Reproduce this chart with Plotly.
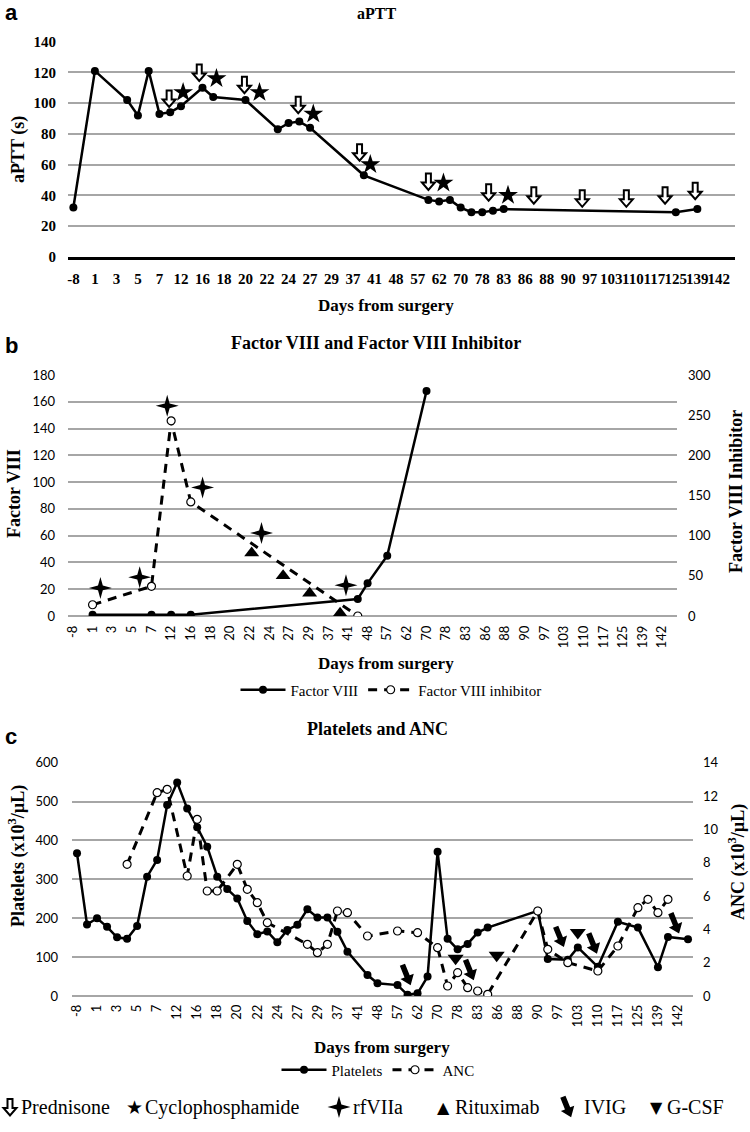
import math
import plotly.graph_objects as go

W, H = 750, 1132
SERIF = "Liberation Serif"
SANS = "Lato"
GRID = "#a6a6a6"

# ---------------- data ----------------
day_labels = ["-8", "1", "3", "5", "7", "12", "16", "18", "20", "22", "24", "27", "29", "37", "41",
              "48", "57", "62", "70", "78", "83", "86", "88", "90", "97", "103", "110", "117", "125",
              "139", "142"]
label_slots = list(range(0, 62, 2))

# Panel a: aPTT (category slot index, value)
aptt_slot = [0, 2, 5, 6, 7, 8, 9, 10, 12, 13, 16, 19, 20, 21, 22, 27, 33, 34, 35, 36, 37, 38, 39, 40, 56, 58]
aptt_val = [32, 121, 102, 92, 121, 93, 94, 98, 110, 104, 102, 83, 87, 88, 84, 53, 37, 36, 37, 32, 29, 29, 30, 31, 29, 31]
pred_a_slot = [8.9, 11.7, 15.9, 20.9, 26.6, 33.0, 38.6, 42.8, 47.3, 51.4, 55.0, 57.8]
pred_a_val = [103, 120, 112, 99, 68, 49, 42, 40, 38, 38, 40, 43]
cyclo_a_slot = [10.2, 13.3, 17.3, 22.3, 27.6, 34.4, 40.4]
cyclo_a_val = [107, 116, 107, 93, 60, 48, 40]

# Panel b: Factor VIII and inhibitor
f8_slot = [2, 8, 10, 12, 29, 30, 32, 36]
f8_val = [1, 1, 1, 1, 12.7, 24.4, 45, 168]
inh_slot = [2, 8, 10, 12, 29]
inh_val = [14, 37, 243, 142, 0]
rf_b_slot = [2.8, 6.8, 9.6, 13.2, 19.2, 27.8]
rf_b_val = [21, 29, 157, 96, 62, 23]
ritux_b_slot = [18.2, 21.4, 24.1, 27.2]
ritux_b_val = [47, 30, 17, 2]

# Panel c: Platelets and ANC
plt_slot = [0, 1, 2, 3, 4, 5, 6, 7, 8, 9, 10, 11, 12, 13, 14, 15, 16, 17, 18, 19, 20, 21, 22, 23, 24, 25,
            26, 27, 29, 30, 32, 33, 34, 35, 36, 37, 38, 39, 40, 41, 46, 47, 49, 50, 52, 54, 56, 58, 59, 61]
plt_val = [367, 184, 200, 178, 151, 147, 180, 307, 350, 491, 549, 482, 434, 384, 307, 275, 251, 193, 159,
           166, 138, 170, 183, 223, 202, 202, 165, 114, 54, 33, 28, 3, 7, 50, 371, 147, 120, 134, 163, 176,
           219, 95, 93, 125, 75, 191, 176, 74, 152, 146]
anc_slot = [5, 8, 9, 11, 12, 13, 14, 16, 17, 18, 19, 23, 24, 25, 26, 27, 29, 32, 34, 36, 37, 38, 39, 40,
            41, 46, 47, 49, 52, 54, 56, 57, 58, 59]
anc_val = [7.9, 12.2, 12.4, 7.2, 10.6, 6.3, 6.3, 7.9, 6.4, 5.6, 4.4, 3.1, 2.6, 3.1, 5.1, 5.0, 3.6, 3.9,
           3.8, 2.9, 0.6, 1.4, 0.5, 0.3, 0.1, 5.1, 2.8, 2.0, 1.5, 3.0, 5.3, 5.8, 5.0, 5.8]
ivig_c_slot = [32.9, 39.2, 48.2, 51.5, 59.7]
ivig_c_val = [54, 67, 152, 135, 187]
gcsf_c_slot = [37.8, 41.9, 50.0]
gcsf_c_val = [97, 105, 163]


def px(x):
    return x / W


def py(y):
    return 1 - y / H


# ---------- icon outlines (pixel units, y up) ----------
def to_path(pts):
    return "M " + " L ".join(f"{x:.2f},{y:.2f}" for x, y in pts) + " Z"


PRED_ICON = to_path([(-2.5, 8), (2.5, 8), (2.5, -1), (6.5, -1), (0, -8.5), (-6.5, -1), (-2.5, -1)])
RF_ICON = to_path([(0, 11), (2.4, 2.4), (11.5, 0), (2.4, -2.4), (0, -11), (-2.4, -2.4), (-11.5, 0), (-2.4, 2.4)])
_iv = [(-2.8, 11), (2.8, 11), (2.8, -1.5), (7.2, -1.5), (0, -11), (-7.2, -1.5), (-2.8, -1.5)]
_t = math.radians(22)
IVIG_ICON = to_path([(x * math.cos(_t) - y * math.sin(_t), x * math.sin(_t) + y * math.cos(_t)) for x, y in _iv])

shapes = []


def icon(path, xa, ya, xref, yref, fill="black", lw=0):
    shapes.append(dict(type="path", path=path, xref=xref, yref=yref, xsizemode="pixel",
                       ysizemode="pixel", xanchor=xa, yanchor=ya, fillcolor=fill,
                       line=dict(color="black", width=lw), layer="above"))


fig = go.Figure()

# ---------- panel a ----------
fig.add_trace(go.Scatter(x=aptt_slot, y=aptt_val, mode="lines+markers", xaxis="x", yaxis="y",
                         line=dict(color="black", width=2.5), marker=dict(size=8, color="black"),
                         showlegend=False, name="aPTT"))
fig.add_trace(go.Scatter(x=cyclo_a_slot, y=cyclo_a_val, mode="markers", xaxis="x", yaxis="y",
                         marker=dict(symbol="star", size=15, color="black", line=dict(width=0)),
                         showlegend=False, name="Cyclophosphamide"))
for xs, ys in zip(pred_a_slot, pred_a_val):
    icon(PRED_ICON, xs, ys, "x", "y", fill="white", lw=2)

# ---------- panel b ----------
fig.add_trace(go.Scatter(x=f8_slot, y=f8_val, mode="lines+markers", xaxis="x2", yaxis="y2",
                         line=dict(color="black", width=2.5), marker=dict(size=8, color="black"),
                         name="Factor VIII", legend="legend"))
fig.add_trace(go.Scatter(x=inh_slot, y=inh_val, mode="lines+markers", xaxis="x2", yaxis="y3",
                         line=dict(color="black", width=3, dash="9px,7px"),
                         marker=dict(size=8, color="white", line=dict(color="black", width=1.2)),
                         name="Factor VIII inhibitor", legend="legend"))
fig.add_trace(go.Scatter(x=ritux_b_slot, y=ritux_b_val, mode="markers", xaxis="x2", yaxis="y2",
                         marker=dict(symbol="triangle-up", size=13, color="black", line=dict(width=0)),
                         showlegend=False, name="Rituximab"))
for xs, ys in zip(rf_b_slot, rf_b_val):
    icon(RF_ICON, xs, ys, "x2", "y2")

# ---------- panel c ----------
fig.add_trace(go.Scatter(x=plt_slot, y=plt_val, mode="lines+markers", xaxis="x3", yaxis="y4",
                         line=dict(color="black", width=2.5), marker=dict(size=8, color="black"),
                         name="Platelets", legend="legend2"))
fig.add_trace(go.Scatter(x=anc_slot, y=anc_val, mode="lines+markers", xaxis="x3", yaxis="y5",
                         line=dict(color="black", width=3, dash="9px,7px"),
                         marker=dict(size=8, color="white", line=dict(color="black", width=1.2)),
                         name="ANC", legend="legend2"))
fig.add_trace(go.Scatter(x=gcsf_c_slot, y=gcsf_c_val, mode="markers", xaxis="x3", yaxis="y4",
                         marker=dict(symbol="triangle-down", size=14, color="black", line=dict(width=0)),
                         showlegend=False, name="G-CSF"))
for xs, ys in zip(ivig_c_slot, ivig_c_val):
    icon(IVIG_ICON, xs, ys, "x3", "y4")

annotations = []


def ann(text, x, y, size, family=SERIF, bold=True, angle=0, xanchor="center", color="black"):
    annotations.append(dict(text=text, x=px(x), y=py(y), xref="paper", yref="paper", showarrow=False,
                            xanchor=xanchor, yanchor="middle", textangle=angle,
                            font=dict(family=family, size=size, color=color,
                                      weight="bold" if bold else "normal")))


# panel letters
ann("a", 11, 13, 22, family="Liberation Sans")
ann("b", 11, 346, 22, family="Liberation Sans")
ann("c", 11, 736, 22, family="Liberation Sans")
# titles
ann("aPTT", 376, 14, 16)
ann("Factor VIII and Factor VIII Inhibitor", 376, 343, 18)
ann("Platelets and ANC", 377, 729, 18)
# x titles
ann("Days from surgery", 386, 305, 17)
ann("Days from surgery", 386, 664, 17)
ann("Days from surgery", 382, 1047, 17)
# y titles
ann("aPTT (s)", 18, 150, 18, angle=-90)
ann("Factor VIII", 14, 494, 18, angle=-90)
ann("Factor VIII Inhibitor", 736, 492, 18, angle=-90)
ann("Platelets (x10<sup>3</sup>/µL)", 17, 856, 18, angle=-90)
ann("ANC (x10<sup>3</sup>/µL)", 737, 862, 18, angle=-90)

# bottom treatment legend
LY = 1107
icon(PRED_ICON, px(10), py(LY), "paper", "paper", fill="white", lw=2)
ann("Prednisone", 19, LY, 20, bold=False, xanchor="left")
ann("★", 134, LY, 19, family="DejaVu Sans", bold=False)
ann("Cyclophosphamide", 143, LY, 20, bold=False, xanchor="left")
icon(RF_ICON, px(339), py(LY), "paper", "paper")
ann("rfVIIa", 351, LY, 20, bold=False, xanchor="left")
ann("▲", 443, LY, 16, family="DejaVu Sans", bold=False)
ann("Rituximab", 453, LY, 20, bold=False, xanchor="left")
icon(IVIG_ICON, px(567), py(LY), "paper", "paper")
ann("IVIG", 582, LY, 20, bold=False, xanchor="left")
ann("▼", 656, LY, 16, family="DejaVu Sans", bold=False)
ann("G-CSF", 665, LY, 20, bold=False, xanchor="left")

xcommon = dict(range=[-0.5, 61.5], tickvals=label_slots, ticktext=day_labels, showgrid=False,
               zeroline=False, ticks="")
sans_tick = dict(family=SANS, size=13, color="black")

fig.update_layout(
    width=W, height=H, margin=dict(l=0, r=0, t=0, b=0, autoexpand=False),
    paper_bgcolor="white", plot_bgcolor="white",
    annotations=annotations, shapes=shapes,
    xaxis=dict(domain=[px(68), px(735)], anchor="y", tickangle=0, showline=True, linecolor="black",
               linewidth=2.5, ticklabelstandoff=7,
               tickfont=dict(family=SERIF, size=15, color="black", weight="bold"), **xcommon),
    yaxis=dict(domain=[py(256.7), py(41.7)], anchor="x", range=[0, 140], dtick=20, gridcolor=GRID,
               gridwidth=1.5, zeroline=False, ticklabelstandoff=11,
               tickfont=dict(family=SERIF, size=15, color="black", weight="bold")),
    xaxis2=dict(domain=[px(68), px(677)], anchor="y2", tickangle=-90, ticklabelstandoff=6,
                tickfont=sans_tick, **xcommon),
    yaxis2=dict(domain=[py(616), py(375)], anchor="x2", range=[0, 180], dtick=20, gridcolor=GRID,
                gridwidth=1.5, zeroline=True, zerolinecolor=GRID, zerolinewidth=1.5,
                ticklabelstandoff=12, tickfont=sans_tick),
    yaxis3=dict(overlaying="y2", anchor="x2", side="right", range=[0, 300], dtick=50, showgrid=False,
                zeroline=False, ticklabelstandoff=10, tickfont=sans_tick),
    xaxis3=dict(domain=[px(72), px(693)], anchor="y4", tickangle=-90, ticklabelstandoff=5,
                tickfont=sans_tick, **xcommon),
    yaxis4=dict(domain=[py(996), py(762.7)], anchor="x3", range=[0, 600], dtick=100, gridcolor=GRID,
                gridwidth=1.5, zeroline=True, zerolinecolor=GRID, zerolinewidth=1.5,
                ticklabelstandoff=13, tickfont=sans_tick),
    yaxis5=dict(overlaying="y4", anchor="x3", side="right", range=[0, 14], dtick=2, showgrid=False,
                zeroline=False, ticklabelstandoff=9, tickfont=sans_tick),
    legend=dict(orientation="h", x=px(391), xanchor="center", y=py(690), yanchor="middle",
                font=dict(family=SERIF, size=15, color="black"), itemwidth=45,
                bgcolor="rgba(0,0,0,0)"),
    legend2=dict(orientation="h", x=px(378), xanchor="center", y=py(1070), yanchor="middle",
                 font=dict(family=SERIF, size=15, color="black"), itemwidth=45,
                 bgcolor="rgba(0,0,0,0)"),
)

fig.write_html("out.html", config={"displayModeBar": False},
               post_script="document.body.style.margin='0px';")
